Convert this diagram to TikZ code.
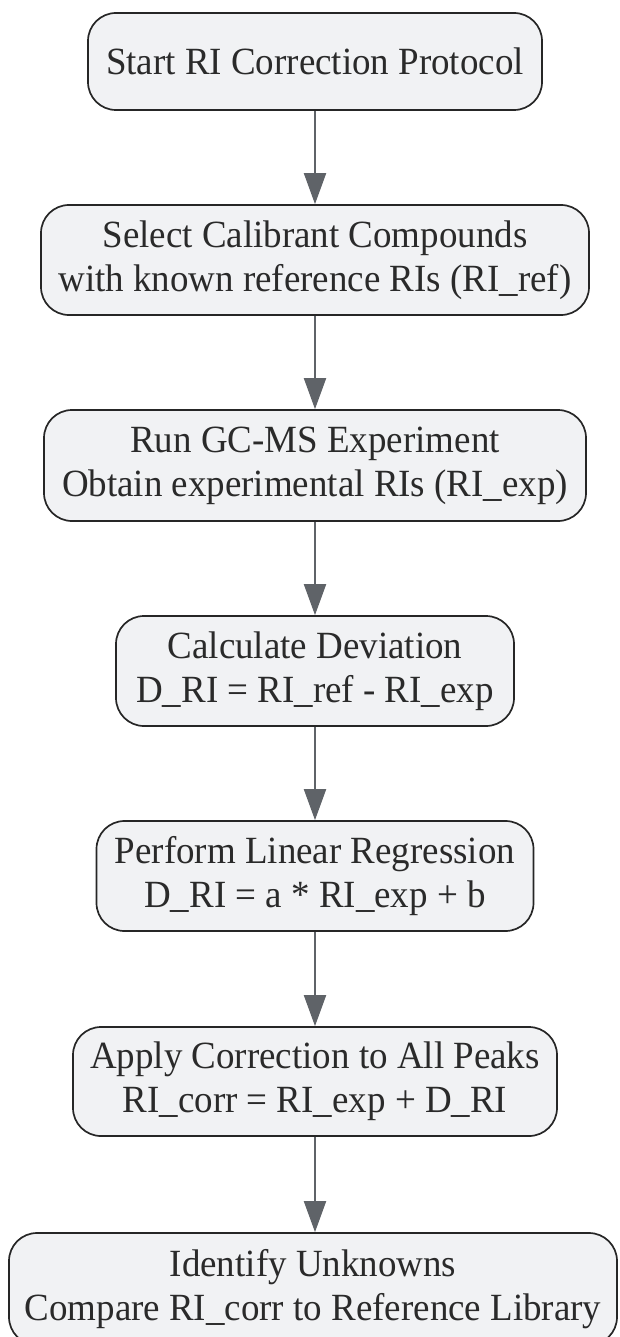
\documentclass[tikz,border=0pt]{standalone}
\usepackage{fontspec}
\setmainfont[FakeStretch=0.96]{Liberation Serif}
\usetikzlibrary{arrows.meta}
\definecolor{boxfill}{HTML}{F1F2F4}
\definecolor{boxdraw}{HTML}{262626}
\definecolor{arrowcol}{HTML}{5F6368}
\definecolor{txtcol}{HTML}{2A2A2A}
\tikzset{
  stepbox/.style={draw=boxdraw, fill=boxfill, line width=1.7pt, rounded corners=28pt,
    align=center, inner sep=0pt, font=\fontsize{38.5pt}{44pt}\selectfont, text=txtcol},
  flowarrow/.style={draw=arrowcol, line width=2pt, -{Triangle[length=31pt,width=22pt]}}
}
\begin{document}
\begin{tikzpicture}[x=1pt,y=1pt]
\useasboundingbox (0,0) rectangle (619,-1337);
\node[stepbox, minimum width=454pt, minimum height=97pt] (n1) at (315,-61.5) {Start RI Correction Protocol};
\node[stepbox, minimum width=548pt, minimum height=110pt] (n2) at (315,-260) {Select Calibrant Compounds\\with known reference RIs (RI\_ref)};
\node[stepbox, minimum width=542pt, minimum height=111pt] (n3) at (315,-465.5) {Run GC-MS Experiment\\Obtain experimental RIs (RI\_exp)};
\node[stepbox, minimum width=398pt, minimum height=110pt] (n4) at (315,-671) {Calculate Deviation\\D\_RI = RI\_ref - RI\_exp};
\node[stepbox, minimum width=437pt, minimum height=110pt] (n5) at (315,-876) {Perform Linear Regression\\D\_RI = a * RI\_exp + b};
\node[stepbox, minimum width=484pt, minimum height=109pt] (n6) at (315,-1081.5) {Apply Correction to All Peaks\\RI\_corr = RI\_exp + D\_RI};
\node[stepbox, minimum width=608pt, minimum height=112pt] (n7) at (313,-1289) {Identify Unknowns\\Compare RI\_corr to Reference Library};
\draw[flowarrow] (n1.south) -- (n2.north);
\draw[flowarrow] (n2.south) -- (n3.north);
\draw[flowarrow] (n3.south) -- (n4.north);
\draw[flowarrow] (n4.south) -- (n5.north);
\draw[flowarrow] (n5.south) -- (n6.north);
\draw[flowarrow] (n6.south) -- (n6.south |- n7.north);
\end{tikzpicture}
\end{document}
